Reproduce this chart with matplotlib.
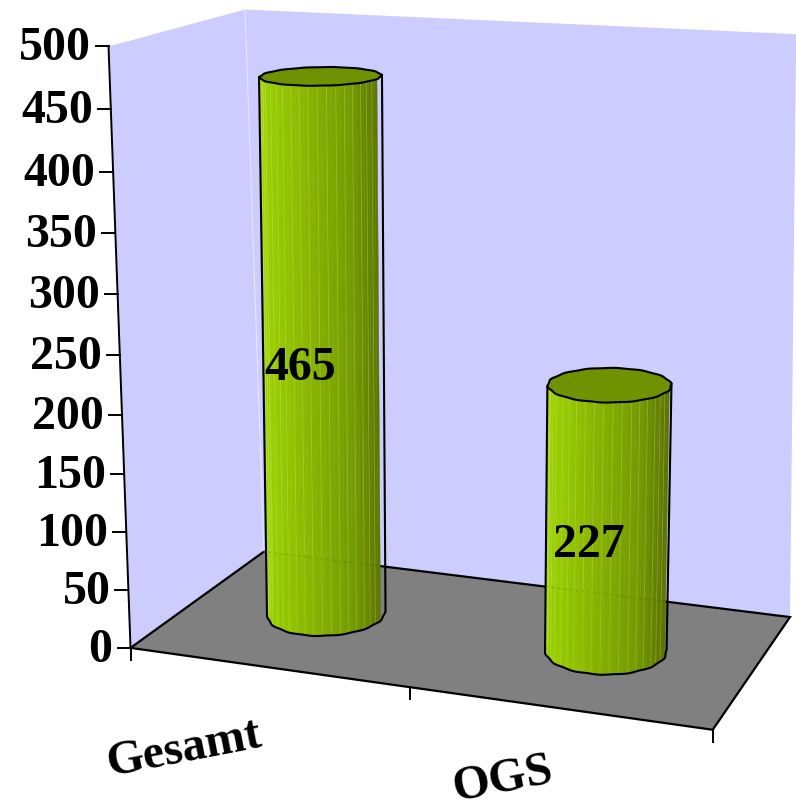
import numpy as np
import matplotlib
matplotlib.use("Agg")
import matplotlib.pyplot as plt
from matplotlib.patches import Polygon
from matplotlib.colors import LinearSegmentedColormap

categories = ["Gesamt", "OGS"]
values = [465, 227]
y_ticks = [0, 50, 100, 150, 200, 250, 300, 350, 400, 450, 500]
y_max = 500

WALL = "#CCCCFF"
FLOOR = "#808080"
TOP = "#6F9200"
SHADE = LinearSegmentedColormap.from_list(
    "side", ["#9CD400", "#90C000", "#82AC00", "#749A00", "#5A7000"])
SERIF = "Liberation Serif"
FS = 34.5

# Scene corners (x across, value up, depth) and where they land on the canvas.
corner_scene = np.array([
    [0, 0, 0], [1, 0, 0], [0, 0, 1], [1, 0, 1],
    [0, 1, 0], [0, 1, 1], [1, 1, 1]], float)
corner_canvas = np.array([
    [130, 646], [714, 730], [267, 552], [789, 617],
    [108, 47], [243, 8], [796, 34]], float)
# Mid-height references only constrain the vertical position.
mid_scene = np.array([[0, 0.5, 0], [0, 0.5, 1]], float)
mid_canvas_v = np.array([356, 288], float)


def fit_camera():
    rows = []
    for (x, y, z), (u, v) in zip(corner_scene, corner_canvas):
        rows.append([x, y, z, 1, 0, 0, 0, 0, -u * x, -u * y, -u * z, -u])
        rows.append([0, 0, 0, 0, x, y, z, 1, -v * x, -v * y, -v * z, -v])
    for (x, y, z), v in zip(mid_scene, mid_canvas_v):
        rows.append([0, 0, 0, 0, x, y, z, 1, -v * x, -v * y, -v * z, -v])
    return np.linalg.svd(np.array(rows))[2][-1].reshape(3, 4)


CAM = fit_camera()


def project(x, value, z):
    x, value, z = np.broadcast_arrays(x, value, z)
    x = x.astype(float)
    value = value.astype(float)
    z = z.astype(float)
    pts = np.stack([x, value / y_max, z, np.ones_like(x)])
    u, v, w = CAM @ pts
    # the front-left corner post stands a little more upright than the camera gives
    u = u / w + (1 - x) * (1 - z) * (-3 + 6 * value / y_max)
    return u, v / w


fig = plt.figure(figsize=(7.96, 8.08), dpi=100)
ax = fig.add_axes([0, 0, 1, 1])
ax.set_xlim(0, 796)
ax.set_ylim(808, 0)
ax.axis("off")


def face(pts, **kw):
    xy = np.array([project(*p) for p in pts])
    ax.add_patch(Polygon(xy, closed=True, **kw))


# Walls and floor
face([(0, 0, 0), (0, y_max, 0), (0, y_max, 1), (0, 0, 1)], fc=WALL, ec="none")
face([(0, 0, 1), (0, y_max, 1), (1, y_max, 1), (1, 0, 1)], fc=WALL, ec="none")
face([(0, 0, 0), (1, 0, 0), (1, 0, 1), (0, 0, 1)], fc=FLOOR, ec="black", lw=1.6,
     joinstyle="miter")
u, v = project(np.array([0, 0.0]), np.array([0, y_max]), np.array([1, 1.0]))
ax.plot(u, v, color="white", lw=1, alpha=0.35)

# Value axis with ticks and labels
u, v = project(np.array([0, 0.0]), np.array([0, y_max]), np.array([0, 0.0]))
ax.plot(u, v, color="black", lw=1.4)
for t in y_ticks:
    tu, tv = project(0.0, float(t), 0.0)
    tu, tv = float(tu), float(tv)
    ax.plot([tu - 13, tu], [tv, tv], color="black", lw=1.4)
    ax.text(tu - 18, tv + 2, str(t), ha="right", va="center", family=SERIF,
            weight="bold", fontsize=FS, color="black")

# Category ticks run straight down from the front floor edge
for xt in (0.0, 0.5, 1.0):
    tu, tv = project(xt, 0.0, 0.0)
    tu, tv = float(tu), float(tv)
    ax.plot([tu, tu], [tv, tv + 12], color="black", lw=1.4)

# Slanted category names
name_offsets = [(-83, 82), (-55, 72)]
for name, xc, (dx, dy) in zip(categories, (0.25, 0.75), name_offsets):
    tu, tv = project(xc, 0.0, 0.0)
    ax.text(float(tu) + dx, float(tv) + dy, name, ha="center", va="center",
            rotation=11, rotation_mode="anchor", family=SERIF, weight="bold",
            fontsize=FS, color="black")

# Cylinders built from flat facets; the rim has a slight ripple
N = 84
theta = np.linspace(0, 2 * np.pi, N + 1)
ripple = 1 + 0.012 * np.cos(14 * theta)
RX, RZ = 0.100, 0.205
lean = [(-0.0085, 0.006), (-0.002, 0.006)]


def cylinder(xc, val, base_shift, top_shift):
    xs = RX * ripple * np.cos(theta)
    zs = 0.5 + RZ * ripple * np.sin(theta)
    bu, bv = project(xc + base_shift + xs, np.zeros_like(xs), zs)
    tu, tv = project(xc + top_shift + xs, np.full_like(xs, float(val)), zs)
    left, right = np.argmin(bu), np.argmax(bu)
    t_left, t_right = np.argmin(tu), np.argmax(tu)
    span = bu.max() - bu.min()

    # visible front half of the side, ordered left to right
    front = [i for i in range(N) if np.sin(theta[i] + np.pi / N) < 0]
    for k, i in enumerate(front):
        quad = [(bu[i], bv[i]), (bu[i + 1], bv[i + 1]),
                (tu[i + 1], tv[i + 1]), (tu[i], tv[i])]
        frac = ((bu[i] + bu[i + 1]) / 2 - bu.min()) / span
        c = SHADE(frac)
        ax.add_patch(Polygon(quad, closed=True, fc=c, ec=c, lw=0.3, zorder=3))
        if k % 2 == 0:
            ax.plot([bu[i], tu[i]], [bv[i], tv[i]], color="#D8F080", lw=0.6,
                    alpha=0.28, zorder=3.1)

    # seam where the rear floor edge shows faintly through the side
    eu, ev = project(np.array([0, 1.0]), np.array([0, 0.0]), np.array([1, 1.0]))
    m = (ev[1] - ev[0]) / (eu[1] - eu[0])
    ex = np.array([bu.min() + 2, bu.max() - 2])
    ax.plot(ex, ev[0] + m * (ex - eu[0]), color="#4A5A00", lw=0.7, alpha=0.35,
            ls=(0, (2, 4)), zorder=3.2)

    # top cap
    ax.add_patch(Polygon(np.c_[tu[:-1], tv[:-1]], closed=True, fc=TOP,
                         ec="black", lw=1.5, zorder=4))

    # outline: down the left side, round the bottom, up the right side
    idx = []
    i = left
    while True:
        idx.append(i)
        if i == right:
            break
        i = (i + 1) % N
    ou = np.r_[tu[t_left], bu[idx], tu[t_right]]
    ov = np.r_[tv[t_left], bv[idx], tv[t_right]]
    ax.plot(ou, ov, color="black", lw=1.5, zorder=4, solid_joinstyle="round")


for xc, val, (b, t) in zip((0.25, 0.75), values, lean):
    cylinder(xc, val, b, t)

# Value labels sit on the front of each cylinder
label_offsets = [(-24, 17), (-18, 26)]
for xc, val, (dx, dy) in zip((0.25, 0.75), values, label_offsets):
    lu, lv = project(xc, val * 0.5, 0.5)
    ax.text(float(lu) + dx, float(lv) + dy, str(val), ha="center", va="center",
            family=SERIF, weight="bold", fontsize=FS, color="black", zorder=5)

fig.savefig("out.png", dpi=100, facecolor="white")
